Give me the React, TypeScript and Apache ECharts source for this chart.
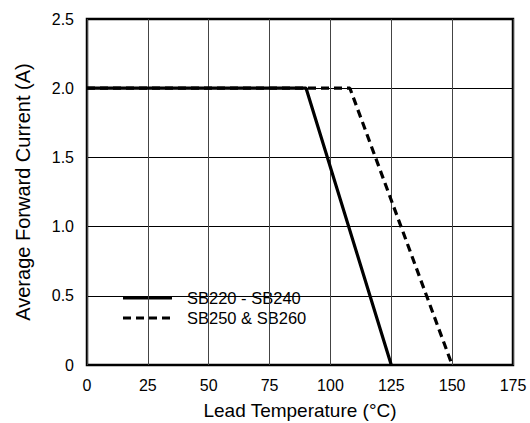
import React, { useEffect, useRef } from "react";
import * as echarts from "echarts";

const xTicks = [0, 25, 50, 75, 100, 125, 150, 175];
const yTicks = [0, 0.5, 1.0, 1.5, 2.0, 2.5];
const seriesNames = ["SB220 - SB240", "SB250 & SB260"];
const solidTemps = [0, 90, 125];
const solidCurrent = [2.0, 2.0, 0];
const dashedTemps = [0, 90, 108, 150];
const dashedCurrent = [2.0, 2.0, 2.0, 0];

const FONT = "'Liberation Sans', Arial, Helvetica, sans-serif";
const DASH = [8, 5];

export default function App() {
  const ref = useRef<HTMLDivElement>(null);
  useEffect(() => {
    document.body.style.margin = "0";
    if (!ref.current) return;
    const chart = echarts.init(ref.current, undefined, { renderer: "svg" });
    const solidData = solidTemps.map((t, i) => [t, solidCurrent[i]]);
    const dashedData = dashedTemps.map((t, i) => [t, dashedCurrent[i]]);

    const lgX = 115;
    const lgY = 282;
    const rowY = [298, 318];
    const legendGraphics = {
      type: "group",
      z: 100,
      children: [
        {
          type: "rect",
          shape: { x: lgX, y: lgY, width: 202, height: 53 },
          style: { fill: "#fff", stroke: "none" },
        },
        {
          type: "line",
          shape: { x1: 123, y1: rowY[0], x2: 172, y2: rowY[0] },
          style: { stroke: "#000", lineWidth: 3.2 },
        },
        {
          type: "line",
          shape: { x1: 123, y1: rowY[1], x2: 172, y2: rowY[1] },
          style: { stroke: "#000", lineWidth: 3.2, lineDash: DASH },
        },
        {
          type: "text",
          x: 187,
          y: rowY[0],
          style: {
            text: seriesNames[0],
            fontSize: 16.5,
            fontFamily: FONT,
            fill: "#000",
            verticalAlign: "middle",
            align: "left",
          },
        },
        {
          type: "text",
          x: 187,
          y: rowY[1],
          style: {
            text: seriesNames[1],
            fontSize: 16.5,
            fontFamily: FONT,
            fill: "#000",
            verticalAlign: "middle",
            align: "left",
          },
        },
      ],
    };

    chart.setOption({
      animation: false,
      backgroundColor: "#fff",
      textStyle: { fontFamily: FONT },
      grid: {
        left: 87,
        right: 17,
        top: 19,
        bottom: 58,
        outerBoundsMode: "none",
        containLabel: false,
        show: true,
        borderColor: "#000",
        borderWidth: 2.5,
        backgroundColor: "transparent",
      },
      xAxis: {
        type: "value",
        min: xTicks[0],
        max: xTicks[xTicks.length - 1],
        interval: 25,
        name: "Lead Temperature (°C)",
        nameLocation: "middle",
        nameGap: 36,
        nameTextStyle: { fontSize: 19, color: "#000", fontFamily: FONT },
        axisLine: { show: false },
        axisTick: { show: false },
        axisLabel: { fontSize: 16, color: "#000", margin: 12, fontFamily: FONT },
        splitLine: { show: true, lineStyle: { color: "#444", width: 1 } },
      },
      yAxis: {
        type: "value",
        min: yTicks[0],
        max: yTicks[yTicks.length - 1],
        interval: 0.5,
        name: "Average Forward Current (A)",
        nameLocation: "middle",
        nameGap: 54,
        nameTextStyle: { fontSize: 20, color: "#000", fontFamily: FONT },
        axisLine: { show: false },
        axisTick: { show: false },
        axisLabel: {
          fontSize: 16,
          color: "#000",
          margin: 13,
          fontFamily: FONT,
          formatter: (v: number) => (v === 0 ? "0" : v.toFixed(1)),
        },
        splitLine: { show: true, lineStyle: { color: "#000", width: 1 } },
      },
      graphic: [legendGraphics],
      series: [
        {
          name: seriesNames[1],
          type: "line",
          data: dashedData,
          symbol: "none",
          z: 2,
          lineStyle: { color: "#000", width: 3.2, type: DASH },
          itemStyle: { color: "#000" },
        },
        {
          name: seriesNames[0],
          type: "line",
          data: solidData,
          symbol: "none",
          z: 3,
          lineStyle: { color: "#000", width: 3.2, type: "solid" },
          itemStyle: { color: "#000" },
        },
      ],
    });
    return () => chart.dispose();
  }, []);
  return <div ref={ref} style={{ width: 530, height: 423 }} />;
}
